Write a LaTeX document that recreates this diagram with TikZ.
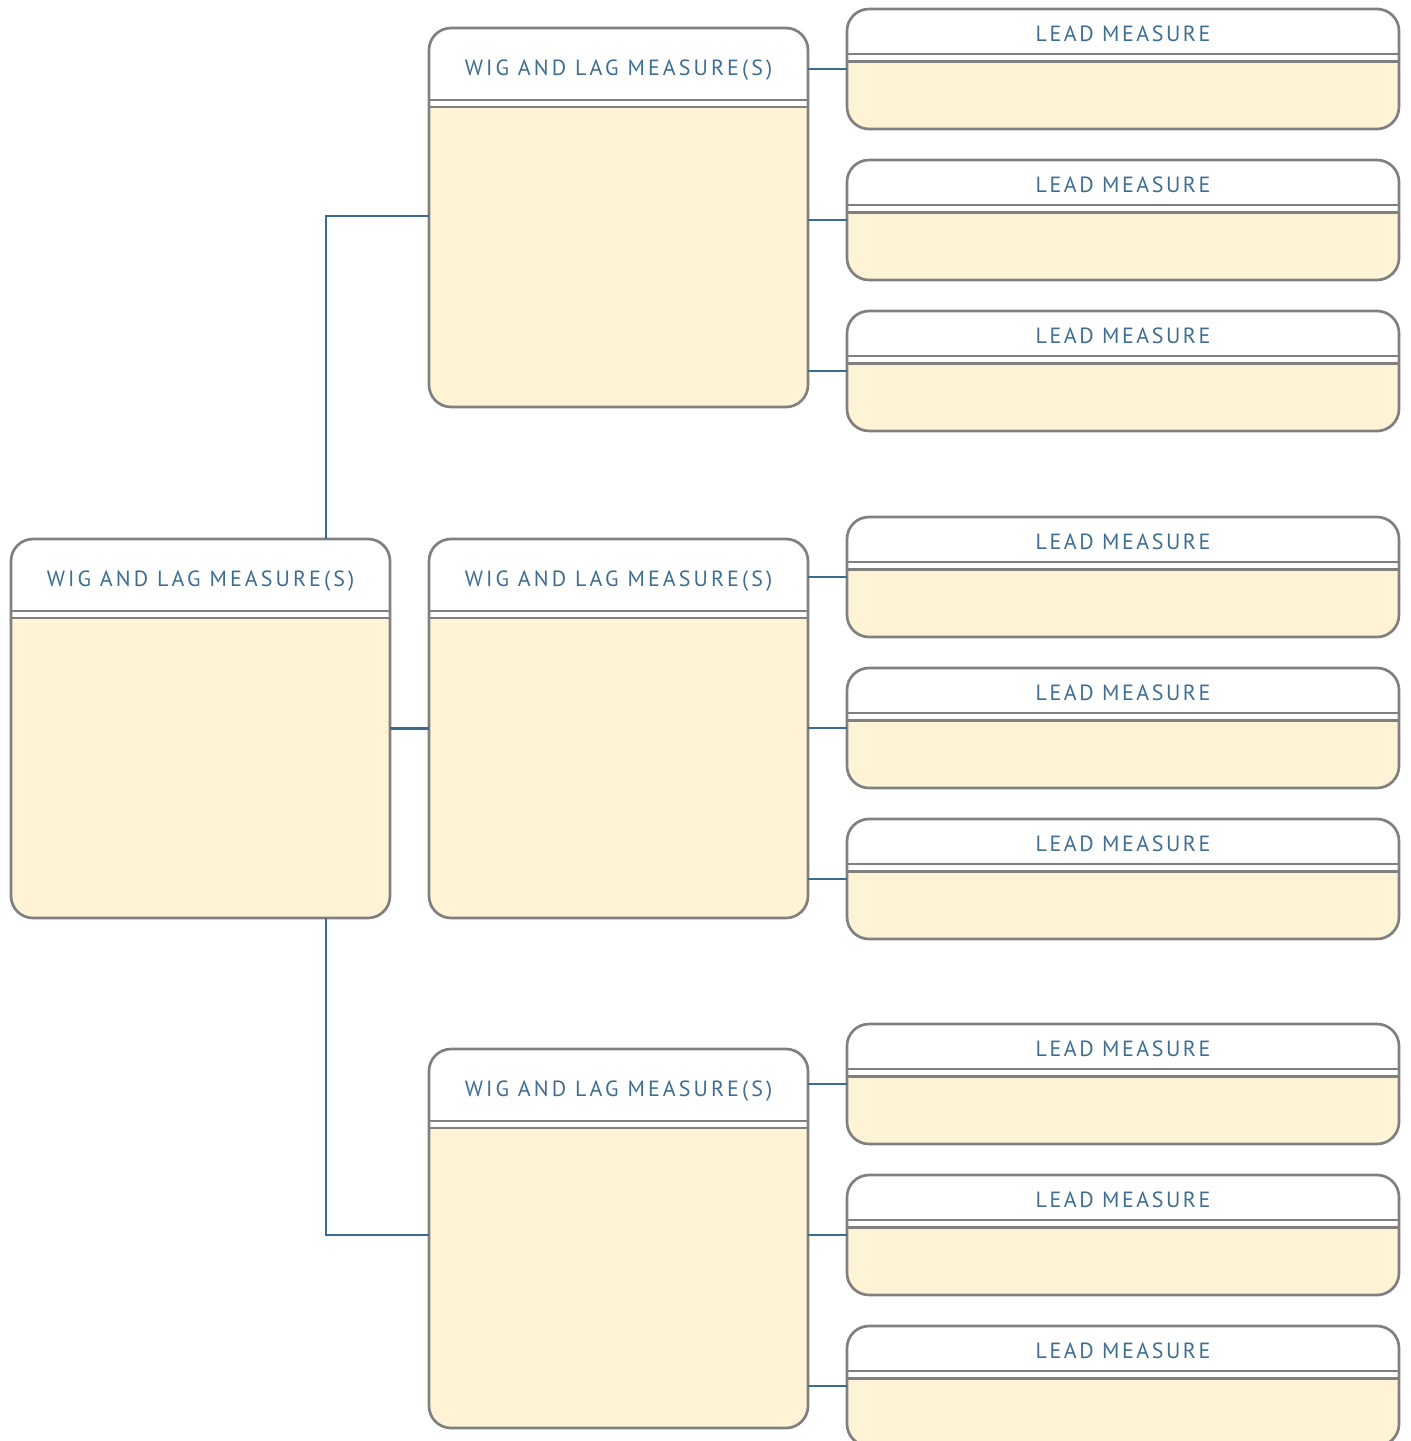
\documentclass[tikz,border=0pt]{standalone}
\usepackage{fontspec}
\setmainfont{PT Sans}
\newfontfamily\titlefont[LetterSpace=14]{PT Sans}
\newfontfamily\leadfont[LetterSpace=11.5]{PT Sans}
\usetikzlibrary{positioning}
\definecolor{boxgray}{RGB}{128,128,128}
\definecolor{boxfill}{RGB}{254,244,213}
\definecolor{titleblue}{RGB}{62,110,145}
\definecolor{linkblue}{RGB}{62,108,143}
\tikzset{x=1pt, y=1pt}
\tikzset{wigbox/.style={draw=boxgray, line width=2.7pt, fill=boxfill,
    rounded corners=22pt, minimum width=379pt, minimum height=379pt,
    inner sep=0pt, outer sep=0pt,
    path picture={
      \fill[white, sharp corners] (path picture bounding box.north west) rectangle
        ([yshift=-79pt]path picture bounding box.north east);
      \draw[boxgray, line width=2.6pt]
        ([yshift=-72pt]path picture bounding box.north west) --
        ([yshift=-72pt]path picture bounding box.north east);
      \draw[boxgray, line width=2.6pt]
        ([yshift=-79pt]path picture bounding box.north west) --
        ([yshift=-79pt]path picture bounding box.north east);
    },
    label={[anchor=base, yshift=-47.5pt, text=titleblue,
      font=\titlefont\fontsize{22pt}{22pt}\selectfont]north:#1}}}
\tikzset{leadbox/.style={draw=boxgray, line width=2.7pt, fill=boxfill,
    rounded corners=22pt, minimum width=552pt, minimum height=120pt,
    inner sep=0pt, outer sep=0pt,
    path picture={
      \fill[white, sharp corners] (path picture bounding box.north west) rectangle
        ([yshift=-52.5pt]path picture bounding box.north east);
      \draw[boxgray, line width=2.6pt]
        ([yshift=-45pt]path picture bounding box.north west) --
        ([yshift=-45pt]path picture bounding box.north east);
      \draw[boxgray, line width=2.6pt]
        ([yshift=-52.5pt]path picture bounding box.north west) --
        ([yshift=-52.5pt]path picture bounding box.north east);
    },
    label={[anchor=base, yshift=-32.5pt, text=titleblue,
      font=\leadfont\fontsize{22pt}{22pt}\selectfont]north:#1}}}
\tikzset{link/.style={draw=linkblue, line width=2.4pt}}

\begin{document}
\begin{tikzpicture}
\useasboundingbox (0,0) rectangle (1411,-1441);
\begin{scope}[on grid]

% goal and its three sub-goals
\node[wigbox={WIG AND LAG MEASURE(S)}] (root) at (200.5,-728.5) {};
\node[wigbox={WIG AND LAG MEASURE(S)}] (midm) [right = 418pt of root] {};
\node[wigbox={WIG AND LAG MEASURE(S)}] (midt) [above = 511pt of midm] {};
\node[wigbox={WIG AND LAG MEASURE(S)}] (midb) [below = 510pt of midm] {};

% lead measures
\node[leadbox={LEAD MEASURE}] (lt2) at (1123,-220) {};
\node[leadbox={LEAD MEASURE}] (lt1) [above = 151pt of lt2] {};
\node[leadbox={LEAD MEASURE}] (lt3) [below = 151pt of lt2] {};

\node[leadbox={LEAD MEASURE}] (lm2) at (1123,-728) {};
\node[leadbox={LEAD MEASURE}] (lm1) [above = 151pt of lm2] {};
\node[leadbox={LEAD MEASURE}] (lm3) [below = 151pt of lm2] {};

\node[leadbox={LEAD MEASURE}] (lb2) at (1123,-1235) {};
\node[leadbox={LEAD MEASURE}] (lb1) [above = 151pt of lb2] {};
\node[leadbox={LEAD MEASURE}] (lb3) [below = 151pt of lb2] {};

% links
\draw[link] ([xshift=-64pt]root.north east) |- ([yshift=1.5pt]midt.west);
\draw[link] (root.east) -- (midm.west);
\draw[link] ([xshift=-64pt]root.south east) |- ([yshift=3.5pt]midb.west);

\draw[link] (lt1.west -| midt.east) -- (lt1.west);
\draw[link] (lt2.west -| midt.east) -- (lt2.west);
\draw[link] (lt3.west -| midt.east) -- (lt3.west);
\draw[link] (lm1.west -| midm.east) -- (lm1.west);
\draw[link] (lm2.west -| midm.east) -- (lm2.west);
\draw[link] (lm3.west -| midm.east) -- (lm3.west);
\draw[link] (lb1.west -| midb.east) -- (lb1.west);
\draw[link] (lb2.west -| midb.east) -- (lb2.west);
\draw[link] (lb3.west -| midb.east) -- (lb3.west);
\end{scope}
\end{tikzpicture}
\end{document}
